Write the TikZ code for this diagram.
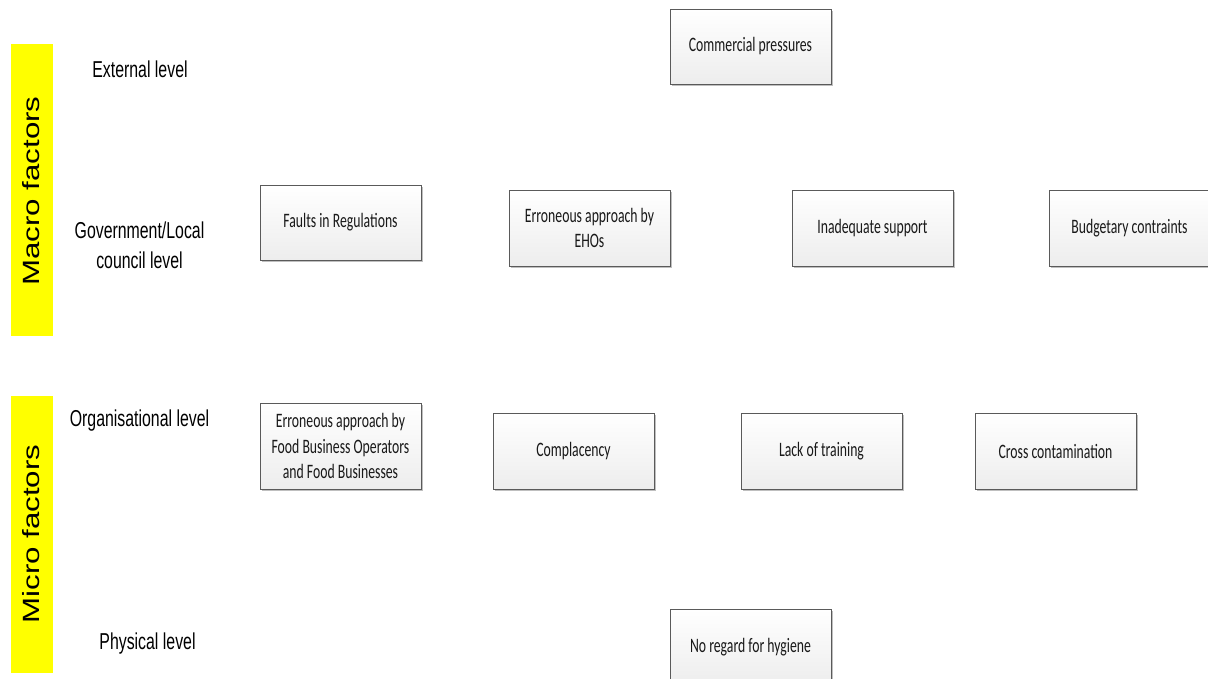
\documentclass[tikz,border=0pt]{standalone}
\usepackage{fontspec}
\setmainfont{Liberation Sans}
\newfontfamily\lblfont[FakeStretch=0.69]{Liberation Sans}
\newfontfamily\boxfont[FakeStretch=0.67]{Carlito}
\newfontfamily\rotfont[FakeStretch=1.33]{Liberation Sans}
\usetikzlibrary{shadows}
\definecolor{boxline}{HTML}{5A5A5A}
\definecolor{boxbot}{HTML}{EDEDED}
\definecolor{barcol}{HTML}{FFFF00}
\tikzset{
  factorbox/.style={draw=boxline, line width=0.8pt, top color=white, bottom color=boxbot,
    minimum width=161pt, minimum height=76pt, inner sep=0pt, align=center,
    text=black!90, font=\boxfont\fontsize{20.5}{25.5}\selectfont,
    drop shadow={shadow xshift=1.6pt, shadow yshift=-1.8pt, fill=black!25, opacity=1}},
  levellabel/.style={align=center, inner sep=0pt, text=black,
    font=\lblfont\fontsize{23}{30}\selectfont},
  yellowbar/.style={fill=barcol, draw=none},
  barlabel/.style={rotate=90, inner sep=0pt, text=black,
    font=\rotfont\fontsize{23.5}{28}\selectfont}
}
\begin{document}
\begin{tikzpicture}[x=1pt,y=-1pt]
\clip (0,0) rectangle (1208,679);
\fill[white] (0,0) rectangle (1208,679);
% yellow bars
\path[yellowbar] (11,44) rectangle (53,336);
\path[yellowbar] (11,396) rectangle (53,673);
\node[barlabel] (macro) at (31,191) {Macro factors};
\node[barlabel] (micro) at (31,534) {Micro factors};
% level labels
\node[levellabel] (ext) at (140,69) {External level};
\node[levellabel] (gov) at (139.5,245) {Government/Local\\council level};
\node[levellabel] (org) at (139.5,421) {Organisational level};
\node[levellabel] (phy) at (147.5,644) {Physical level};
% boxes
\node[factorbox, minimum height=75pt] (comm) at (750.5,46.5) {Commercial pressures};
\node[factorbox, minimum height=75pt] (faults) at (340.5,222.5) {Faults in Regulations};
\node[factorbox] (eho) at (589.5,228) {Erroneous approach by\\EHOs};
\node[factorbox] (inad) at (872.5,228) {Inadequate support};
\node[factorbox] (budg) at (1129.5,228) {Budgetary contraints};
\node[factorbox, minimum height=86pt] (fbo) at (340.5,446) {Erroneous approach by\\Food Business Operators\\and Food Businesses};
\node[factorbox] (comp) at (573.5,451) {Complacency};
\node[factorbox] (lack) at (821.5,451) {Lack of training};
\node[factorbox] (cross) at (1055.5,451) {Cross contamination};
\node[factorbox] (hyg) at (750.5,647) {No regard for hygiene};
\end{tikzpicture}
\end{document}
